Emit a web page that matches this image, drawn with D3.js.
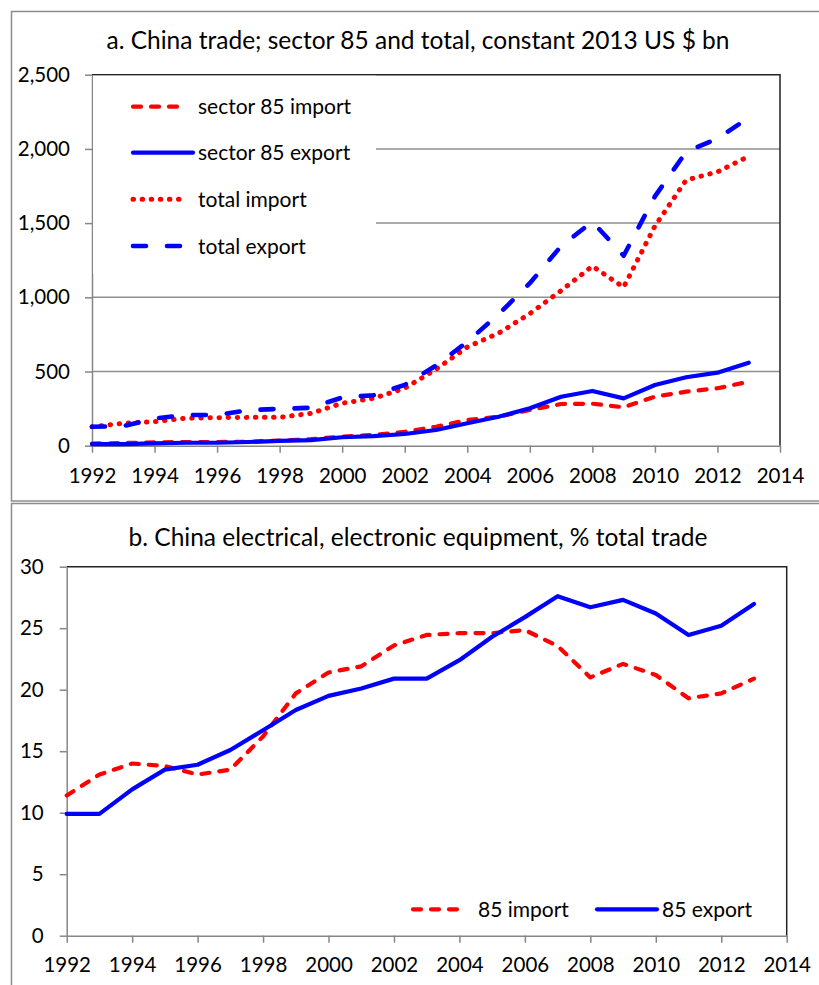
<!DOCTYPE html>
<html>
<head>
<meta charset="utf-8">
<script src="https://cdn.jsdelivr.net/npm/d3@7"></script>
<style>
  body { margin: 0; background: white; }
</style>
</head>
<body>
<script>

// ==== Data ====
var years = [1992, 1993, 1994, 1995, 1996, 1997, 1998, 1999, 2000, 2001, 2002,
             2003, 2004, 2005, 2006, 2007, 2008, 2009, 2010, 2011, 2012, 2013];

// a. constant 2013 US $ bn
var sec85Import = [14, 18, 22, 25, 25, 27, 35, 44, 61, 72, 94, 128, 173, 195, 241, 281, 283, 259, 330, 364, 387, 431];
var sec85Export = [10, 11, 16, 20, 20, 25, 32, 38, 57, 65, 79, 106, 151, 195, 252, 330, 369, 319, 409, 461, 492, 559];
var totalImport = [128, 151, 162, 185, 189, 191, 191, 218, 286, 319, 387, 515, 665, 758, 890, 1045, 1210, 1068, 1480, 1790, 1845, 1950];
var totalExport = [128, 132, 183, 207, 207, 240, 248, 256, 325, 340, 410, 540, 700, 885, 1095, 1345, 1510, 1280, 1680, 1980, 2070, 2210];

// b. % of total trade
var pctImport = [11.4, 13.1, 14.0, 13.8, 13.1, 13.5, 16.2, 19.7, 21.4, 21.9, 23.6, 24.45, 24.6, 24.6, 24.85, 23.55, 21.0, 22.1, 21.2, 19.3, 19.7, 20.9];
var pctExport = [9.9, 9.9, 11.9, 13.5, 13.9, 15.1, 16.7, 18.35, 19.5, 20.1, 20.9, 20.9, 22.4, 24.3, 25.9, 27.6, 26.7, 27.3, 26.2, 24.45, 25.2, 26.97];

var xTicks = [1992, 1994, 1996, 1998, 2000, 2002, 2004, 2006, 2008, 2010, 2012, 2014];
var yTicksA = [0, 500, 1000, 1500, 2000, 2500];
var yTicksB = [0, 5, 10, 15, 20, 25, 30];

var titleA = "a. China trade; sector 85 and total, constant 2013 US $ bn";
var titleB = "b. China electrical, electronic equipment, % total trade";

var legendA = ["sector 85 import", "sector 85 export", "total import", "total export"];
var legendB = ["85 import", "85 export"];


// ==== Style parameters ====
var red = "#ff0000",
    blue = "#0000ff",
    frame_col = "#8c8c8c",
    axis_col = "#868686",
    grid_col = "#8f8f8f",
    border_col = "#222222",
    font = "Lato, 'Noto Sans', sans-serif",
    tick_size = '20.5px',
    lab_size = '21px',
    title_size = '24.5px';

var styles = {
    dash:   {col: red,  w: 4.2, dash: "8,10"},
    solid:  {col: blue, w: 4.2, dash: null},
    dot:    {col: red,  w: 5, dash: "0.5,8.6"},
    ldash:  {col: blue, w: 4.6, dash: "13,21"}
};

var svg = d3.select("body")
    .append("svg")
    .attr("width", 819)
    .attr("height", 985);


// ==== Outer frames ====
svg.append("rect")
    .attr("x", 11.5).attr("y", 11.5)
    .attr("width", 840).attr("height", 489.5)
    .attr("fill", "none")
    .attr("stroke", frame_col)
    .attr("stroke-width", 1.5);

svg.append("rect")
    .attr("x", 11.5).attr("y", 503.5)
    .attr("width", 840).attr("height", 520)
    .attr("fill", "none")
    .attr("stroke", frame_col)
    .attr("stroke-width", 1.5);


function drawLine(g, x, y, vals, st) {
    var line = d3.line()
        .x(function(d, i) { return x(years[i]); })
        .y(function(d) { return y(d); });

    var p = g.append("path")
        .datum(vals)
        .attr("d", line)
        .attr("fill", "none")
        .attr("stroke", st.col)
        .attr("stroke-width", st.w)
        .attr("stroke-linejoin", "round")
        .attr("stroke-linecap", "round");
    if (st.dash) p.attr("stroke-dasharray", st.dash);
}

function legendItem(g, x1, x2, tx, ty, label, st) {
    var p = g.append("line")
        .attr("x1", x1).attr("x2", x2)
        .attr("y1", ty).attr("y2", ty)
        .attr("stroke", st.col)
        .attr("stroke-width", st.w)
        .attr("stroke-linecap", "round");
    if (st.dash) p.attr("stroke-dasharray", st.dash);

    g.append("text")
        .text(label)
        .attr("x", tx)
        .attr("y", ty)
        .attr("dy", "0.36em")
        .attr("font-family", font)
        .attr("font-size", lab_size)
        .attr("fill", "black");
}

function styleAxis(ax, col) {
    ax.select(".domain").attr("stroke", col).attr("stroke-width", 1.5);
    ax.selectAll(".tick line").attr("stroke", col).attr("stroke-width", 1.5);
    ax.selectAll(".tick text")
        .attr("font-family", font)
        .attr("font-size", tick_size)
        .attr("fill", "black");
}


// ============ Chart a ============
var xA = d3.scaleLinear().domain([1992, 2014]).range([92, 780]);
var yA = d3.scaleLinear().domain([0, 2500]).range([445.7, 74.7]);

var gA = svg.append("g");

gA.append("text")
    .text(titleA)
    .attr("x", 418)
    .attr("y", 49)
    .attr("text-anchor", "middle")
    .attr("font-family", font)
    .attr("font-size", title_size)
    .attr("fill", "black");

// gridlines
gA.append("g")
    .selectAll("line")
    .data(yTicksA.filter(function(d) { return d > 0 && d < 2500; }))
    .enter().append("line")
    .attr("x1", xA(1992)).attr("x2", xA(2014))
    .attr("y1", function(d) { return yA(d); })
    .attr("y2", function(d) { return yA(d); })
    .attr("stroke", grid_col)
    .attr("stroke-width", 1.5);

// plot border top / right
gA.append("path")
    .attr("d", "M" + xA(1992) + "," + yA(2500) + "H" + xA(2014) + "V" + yA(0))
    .attr("fill", "none")
    .attr("stroke", border_col)
    .attr("stroke-width", 1.5);

var axA_y = gA.append("g")
    .attr("transform", "translate(" + xA(1992) + ",0)")
    .call(d3.axisLeft(yA).tickValues(yTicksA).tickFormat(d3.format(",")).tickSize(7).tickPadding(15).tickSizeOuter(0));
styleAxis(axA_y, axis_col);

var axA_x = gA.append("g")
    .attr("transform", "translate(0," + yA(0) + ")")
    .call(d3.axisBottom(xA).tickValues(xTicks).tickFormat(d3.format("d")).tickSize(7).tickPadding(16).tickSizeOuter(0));
styleAxis(axA_x, axis_col);

// legend box (white, hides gridlines)
var legA = gA.append("g");
legA.append("rect")
    .attr("x", xA(1992) + 1).attr("y", yA(2500) + 1)
    .attr("width", 283).attr("height", 198)
    .attr("fill", "white");

drawLine(gA, xA, yA, totalImport, styles.dot);
drawLine(gA, xA, yA, totalExport, styles.ldash);
drawLine(gA, xA, yA, sec85Import, styles.dash);
drawLine(gA, xA, yA, sec85Export, styles.solid);

legendItem(legA, 133, 185, 198, 106.7, legendA[0], styles.dash);
legendItem(legA, 133, 193, 198, 152.7, legendA[1], styles.solid);
legendItem(legA, 133, 185, 198, 199.3, legendA[2], styles.dot);
legendItem(legA, 133, 185, 198, 246, legendA[3], styles.ldash);


// ============ Chart b ============
var xB = d3.scaleLinear().domain([1992, 2014]).range([66.7, 786.7]);
var yB = d3.scaleLinear().domain([0, 30]).range([935.7, 566.7]);

var gB = svg.append("g");

gB.append("text")
    .text(titleB)
    .attr("x", 418)
    .attr("y", 546)
    .attr("text-anchor", "middle")
    .attr("font-family", font)
    .attr("font-size", title_size)
    .attr("fill", "black");

gB.append("path")
    .attr("d", "M" + xB(1992) + "," + yB(30) + "H" + xB(2014) + "V" + yB(0))
    .attr("fill", "none")
    .attr("stroke", border_col)
    .attr("stroke-width", 1.5);

var axB_y = gB.append("g")
    .attr("transform", "translate(" + xB(1992) + ",0)")
    .call(d3.axisLeft(yB).tickValues(yTicksB).tickSize(7).tickPadding(16).tickSizeOuter(0));
styleAxis(axB_y, axis_col);

var axB_x = gB.append("g")
    .attr("transform", "translate(0," + yB(0) + ")")
    .call(d3.axisBottom(xB).tickValues(xTicks).tickFormat(d3.format("d")).tickSize(7).tickPadding(15).tickSizeOuter(0));
styleAxis(axB_x, axis_col);

drawLine(gB, xB, yB, pctImport, styles.dash);
drawLine(gB, xB, yB, pctExport, styles.solid);

var legB = gB.append("g");
legendItem(legB, 413, 465, 478, 909.3, legendB[0], styles.dash);
legendItem(legB, 597, 657, 662, 909.3, legendB[1], styles.solid);

</script>
</body>
</html>
